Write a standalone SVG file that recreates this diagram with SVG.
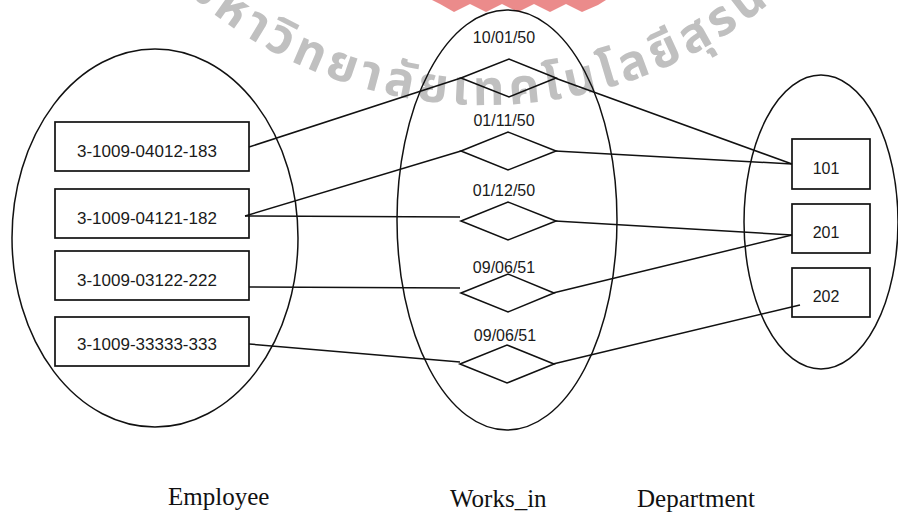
<svg xmlns="http://www.w3.org/2000/svg" width="898" height="512" viewBox="0 0 898 512">
  <defs>
    <style>
      .ell{fill:none;stroke:#111;stroke-width:1.5}
      .box{fill:none;stroke:#111;stroke-width:1.7}
      .dia{fill:none;stroke:#111;stroke-width:1.6}
      .wire{fill:none;stroke:#111;stroke-width:1.5}
      .t{font-family:"Liberation Sans",Arial,sans-serif;font-size:17px;fill:#1a1a1a}
      .d{font-family:"Liberation Sans",Arial,sans-serif;font-size:16px;fill:#1a1a1a}
      .lab{font-family:"Liberation Serif","Times New Roman",serif;font-size:25px;fill:#111}
      .wm{font-family:"Noto Sans Thai","Noto Sans","DejaVu Sans",sans-serif;font-size:49px;font-weight:bold;fill:#c0c0c0;letter-spacing:5px}
    </style>
    <path id="wmArc" d="M 85,-140 A 449 449 0 0 0 885,-140"/>
  </defs>

  <rect x="0" y="0" width="898" height="512" fill="#fff"/>

  <!-- watermark -->
  <g id="watermark">
    <polygon points="432,0 606,0 598,5 582,12 566,4 550,12 534,4 518,12 502,4 486,12 470,4 454,12 440,4" fill="#e25a5a" opacity="0.7"/>
    <text class="wm"><textPath href="#wmArc" startOffset="163">มหาวิทยาลัยเทคโนโลยีสุรนารี</textPath></text>
  </g>

  <!-- entity sets and relationship set -->
  <g id="employee-set"><ellipse class="ell" cx="155" cy="238" rx="143" ry="189"/></g>
  <g id="works-in-set"><ellipse class="ell" cx="507" cy="220" rx="110" ry="210"/></g>
  <g id="department-set"><ellipse class="ell" cx="821" cy="222" rx="77" ry="147"/></g>

  <!-- connectors -->
  <g id="connectors">
    <line class="wire" x1="249" y1="147" x2="461" y2="78"/>
    <line class="wire" x1="555" y1="78" x2="792" y2="164"/>
    <line class="wire" x1="245" y1="216" x2="461" y2="151"/>
    <line class="wire" x1="555" y1="151" x2="792" y2="164"/>
    <line class="wire" x1="245" y1="216" x2="460" y2="217"/>
    <line class="wire" x1="555" y1="221" x2="792" y2="235"/>
    <line class="wire" x1="249" y1="287" x2="460" y2="288"/>
    <line class="wire" x1="553" y1="293" x2="792" y2="235"/>
    <line class="wire" x1="249" y1="344" x2="460" y2="362"/>
    <line class="wire" x1="553" y1="364" x2="800" y2="305"/>
  </g>

  <!-- employees -->
  <g id="emp-1"><rect class="box" x="55" y="122" width="194" height="49"/><text class="t" x="77" y="157">3-1009-04012-183</text></g>
  <g id="emp-2"><rect class="box" x="55" y="189" width="194" height="49"/><text class="t" x="77" y="224">3-1009-04121-182</text></g>
  <g id="emp-3"><rect class="box" x="55" y="251" width="194" height="49"/><text class="t" x="77" y="286">3-1009-03122-222</text></g>
  <g id="emp-4"><rect class="box" x="55" y="317" width="194" height="49"/><text class="t" x="77" y="350">3-1009-33333-333</text></g>

  <!-- works_in instances -->
  <g id="rel-1"><polygon class="dia" points="461,78 509,59 556,78 509,97"/><text class="d" x="504" y="43" text-anchor="middle">10/01/50</text></g>
  <g id="rel-2"><polygon class="dia" points="461,151 508,132 556,151 508,170"/><text class="d" x="504" y="126" text-anchor="middle">01/11/50</text></g>
  <g id="rel-3"><polygon class="dia" points="461,221 508,202 556,221 508,240"/><text class="d" x="504" y="196" text-anchor="middle">01/12/50</text></g>
  <g id="rel-4"><polygon class="dia" points="461,293 508,274 554,293 508,312"/><text class="d" x="504" y="273" text-anchor="middle">09/06/51</text></g>
  <g id="rel-5"><polygon class="dia" points="460,364 507,345 554,364 507,383"/><text class="d" x="505" y="341" text-anchor="middle">09/06/51</text></g>

  <!-- departments -->
  <g id="dept-101"><rect class="box" x="792" y="139" width="78" height="50"/><text class="d" x="826" y="174" text-anchor="middle">101</text></g>
  <g id="dept-201"><rect class="box" x="792" y="204" width="78" height="49"/><text class="d" x="826" y="238" text-anchor="middle">201</text></g>
  <g id="dept-202"><rect class="box" x="792" y="268" width="78" height="49"/><text class="d" x="826" y="302" text-anchor="middle">202</text></g>

  <!-- set captions -->
  <g id="captions">
    <text class="lab" x="168" y="505">Employee</text>
    <text class="lab" x="450" y="507">Works_in</text>
    <text class="lab" x="637" y="507">Department</text>
  </g>
</svg>
